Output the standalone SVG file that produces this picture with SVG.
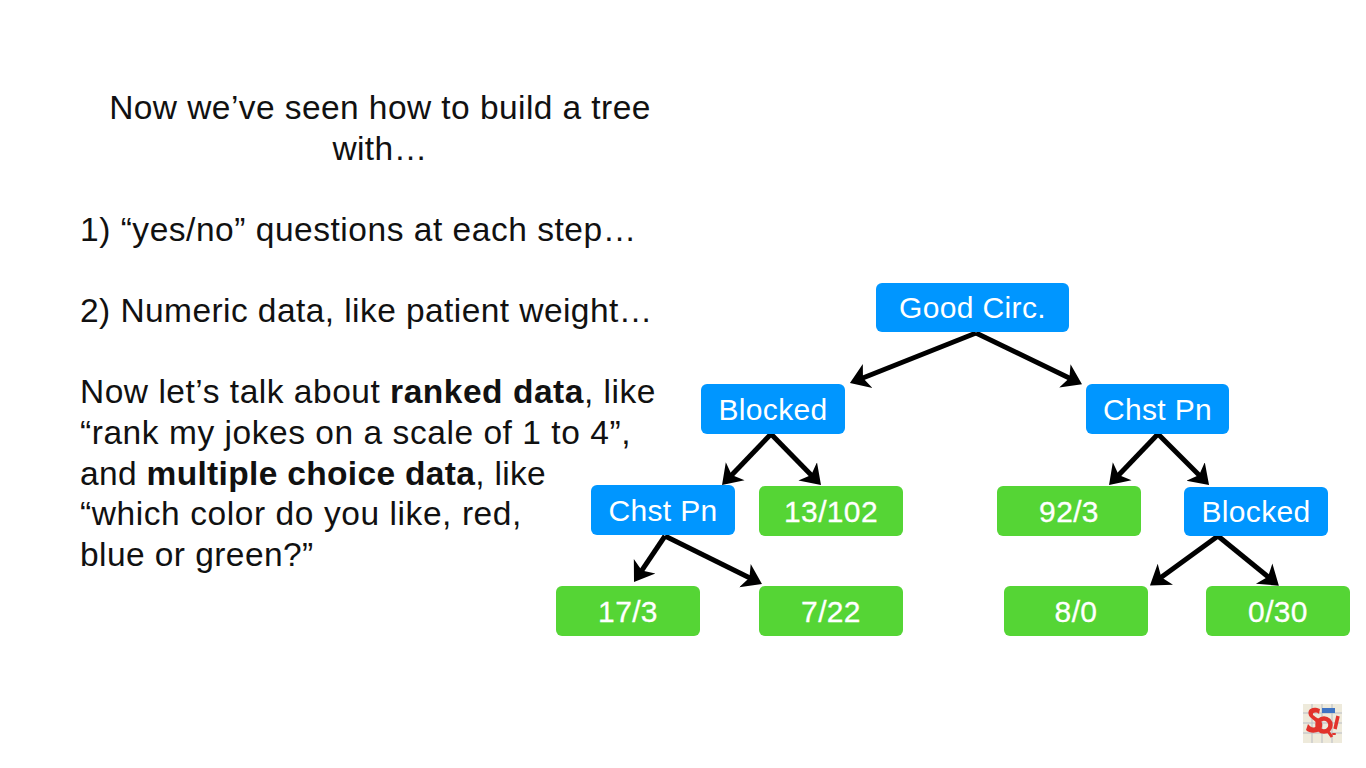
<svg xmlns="http://www.w3.org/2000/svg" width="1366" height="768" viewBox="0 0 1366 768">
<defs>
<marker id="arrow" markerUnits="userSpaceOnUse" markerWidth="22" markerHeight="30" refX="14" refY="15" orient="auto" viewBox="0 0 22 30"><path d="M0 2 L19 15 L0 28 L5 15 Z" fill="#000"/></marker>
</defs>
<style>
text{font-family:"Liberation Sans",Arial,sans-serif}
.t{font-size:33.5px;letter-spacing:.43px;fill:#111}
.b{fill:#0096ff}
.g{fill:#55d535}
.n{font-size:30px;letter-spacing:.35px;fill:#fff;text-anchor:middle}
.s{stroke:#fff;stroke-width:.3px}
.c{fill:none;stroke:#000;stroke-width:5;marker-end:url(#arrow)}
</style>
<rect width="1366" height="768" fill="#fff"/>
<g id="copy" class="t">
<text x="380" y="119" text-anchor="middle">Now we’ve seen how to build a tree</text>
<text x="380" y="160" text-anchor="middle">with…</text>
<text x="80" y="241" style="letter-spacing:.53px">1) “yes/no” questions at each step…</text>
<text x="80" y="322">2) Numeric data, like patient weight…</text>
<text x="80" y="403" style="letter-spacing:.52px">Now let’s talk about <tspan font-weight="700">ranked data</tspan>, like</text>
<text x="80" y="444" style="letter-spacing:.55px">“rank my jokes on a scale of 1 to 4”,</text>
<text x="80" y="485" style="letter-spacing:.33px">and <tspan font-weight="700">multiple choice data</tspan>, like</text>
<text x="80" y="525" style="letter-spacing:.58px">“which color do you like, red,</text>
<text x="80" y="566">blue or green?”</text>
</g>
<g id="connectors">
<path class="c" d="M976 333 L854.600 381.200"/>
<path class="c" d="M976 333 L1077.500 382"/>
<path class="c" d="M771 434 L725.500 481.400"/>
<path class="c" d="M771 434 L817.500 481.400"/>
<path class="c" d="M1158 434 L1112.500 481.400"/>
<path class="c" d="M1158 434 L1205.500 481.400"/>
<path class="c" d="M665 536 L636.800 577.900"/>
<path class="c" d="M665 536 L757.500 581.800"/>
<path class="c" d="M1218 536 L1154 582.500"/>
<path class="c" d="M1218 536 L1275 582.500"/>
</g>
<g id="n1"><rect class="b" x="876" y="283" width="193" height="49" rx="6"/><text class="n" x="972.500" y="318">Good Circ.</text></g>
<g id="n2"><rect class="b" x="701" y="384" width="144" height="50" rx="6"/><text class="n" x="773" y="420">Blocked</text></g>
<g id="n3"><rect class="b" x="1086" y="384" width="143" height="50" rx="6"/><text class="n" x="1157.500" y="420">Chst Pn</text></g>
<g id="n4"><rect class="b" x="591" y="485" width="144" height="50" rx="6"/><text class="n" x="663" y="521">Chst Pn</text></g>
<g id="n5"><rect class="g" x="759" y="486" width="144" height="50" rx="6"/><text class="n s" x="831" y="522">13/102</text></g>
<g id="n6"><rect class="g" x="997" y="486" width="144" height="50" rx="6"/><text class="n s" x="1069" y="522">92/3</text></g>
<g id="n7"><rect class="b" x="1184" y="487" width="144" height="49" rx="6"/><text class="n" x="1256" y="522">Blocked</text></g>
<g id="n8"><rect class="g" x="556" y="586" width="144" height="50" rx="6"/><text class="n s" x="628" y="622">17/3</text></g>
<g id="n9"><rect class="g" x="759" y="586" width="144" height="50" rx="6"/><text class="n s" x="831" y="622">7/22</text></g>
<g id="n10"><rect class="g" x="1004" y="586" width="144" height="50" rx="6"/><text class="n s" x="1076" y="622">8/0</text></g>
<g id="n11"><rect class="g" x="1206" y="586" width="144" height="50" rx="6"/><text class="n s" x="1278" y="622">0/30</text></g>
<g id="badge">
<rect x="1303" y="704" width="39" height="39" fill="#eeeadb"/>
<path d="M1303 713H1342M1303 723H1342M1303 733H1342M1312 704V743M1322 704V743M1332 704V743" stroke="#b8bcc4" stroke-width="1" fill="none"/>
<path d="M1320 709 C1310 705 1306 712 1310 717 C1314 721 1318 722 1316 726 C1314 729 1310 727 1308 724 L1306 730 C1310 734 1320 734 1322 727 C1324 720 1316 718 1313 715 C1312 712 1317 712 1319 714 Z" fill="#e2332c"/>
<circle cx="1324" cy="725" r="6.500" fill="none" stroke="#e2332c" stroke-width="4.500"/>
<path d="M1327 730 L1332 737" stroke="#e2332c" stroke-width="3" fill="none"/>
<path d="M1338 716 L1335 729 M1334 733 L1334 735" stroke="#e2332c" stroke-width="3.500" fill="none"/>
<rect x="1322" y="708" width="13" height="5" fill="#3f74c4"/>
</g>
</svg>
